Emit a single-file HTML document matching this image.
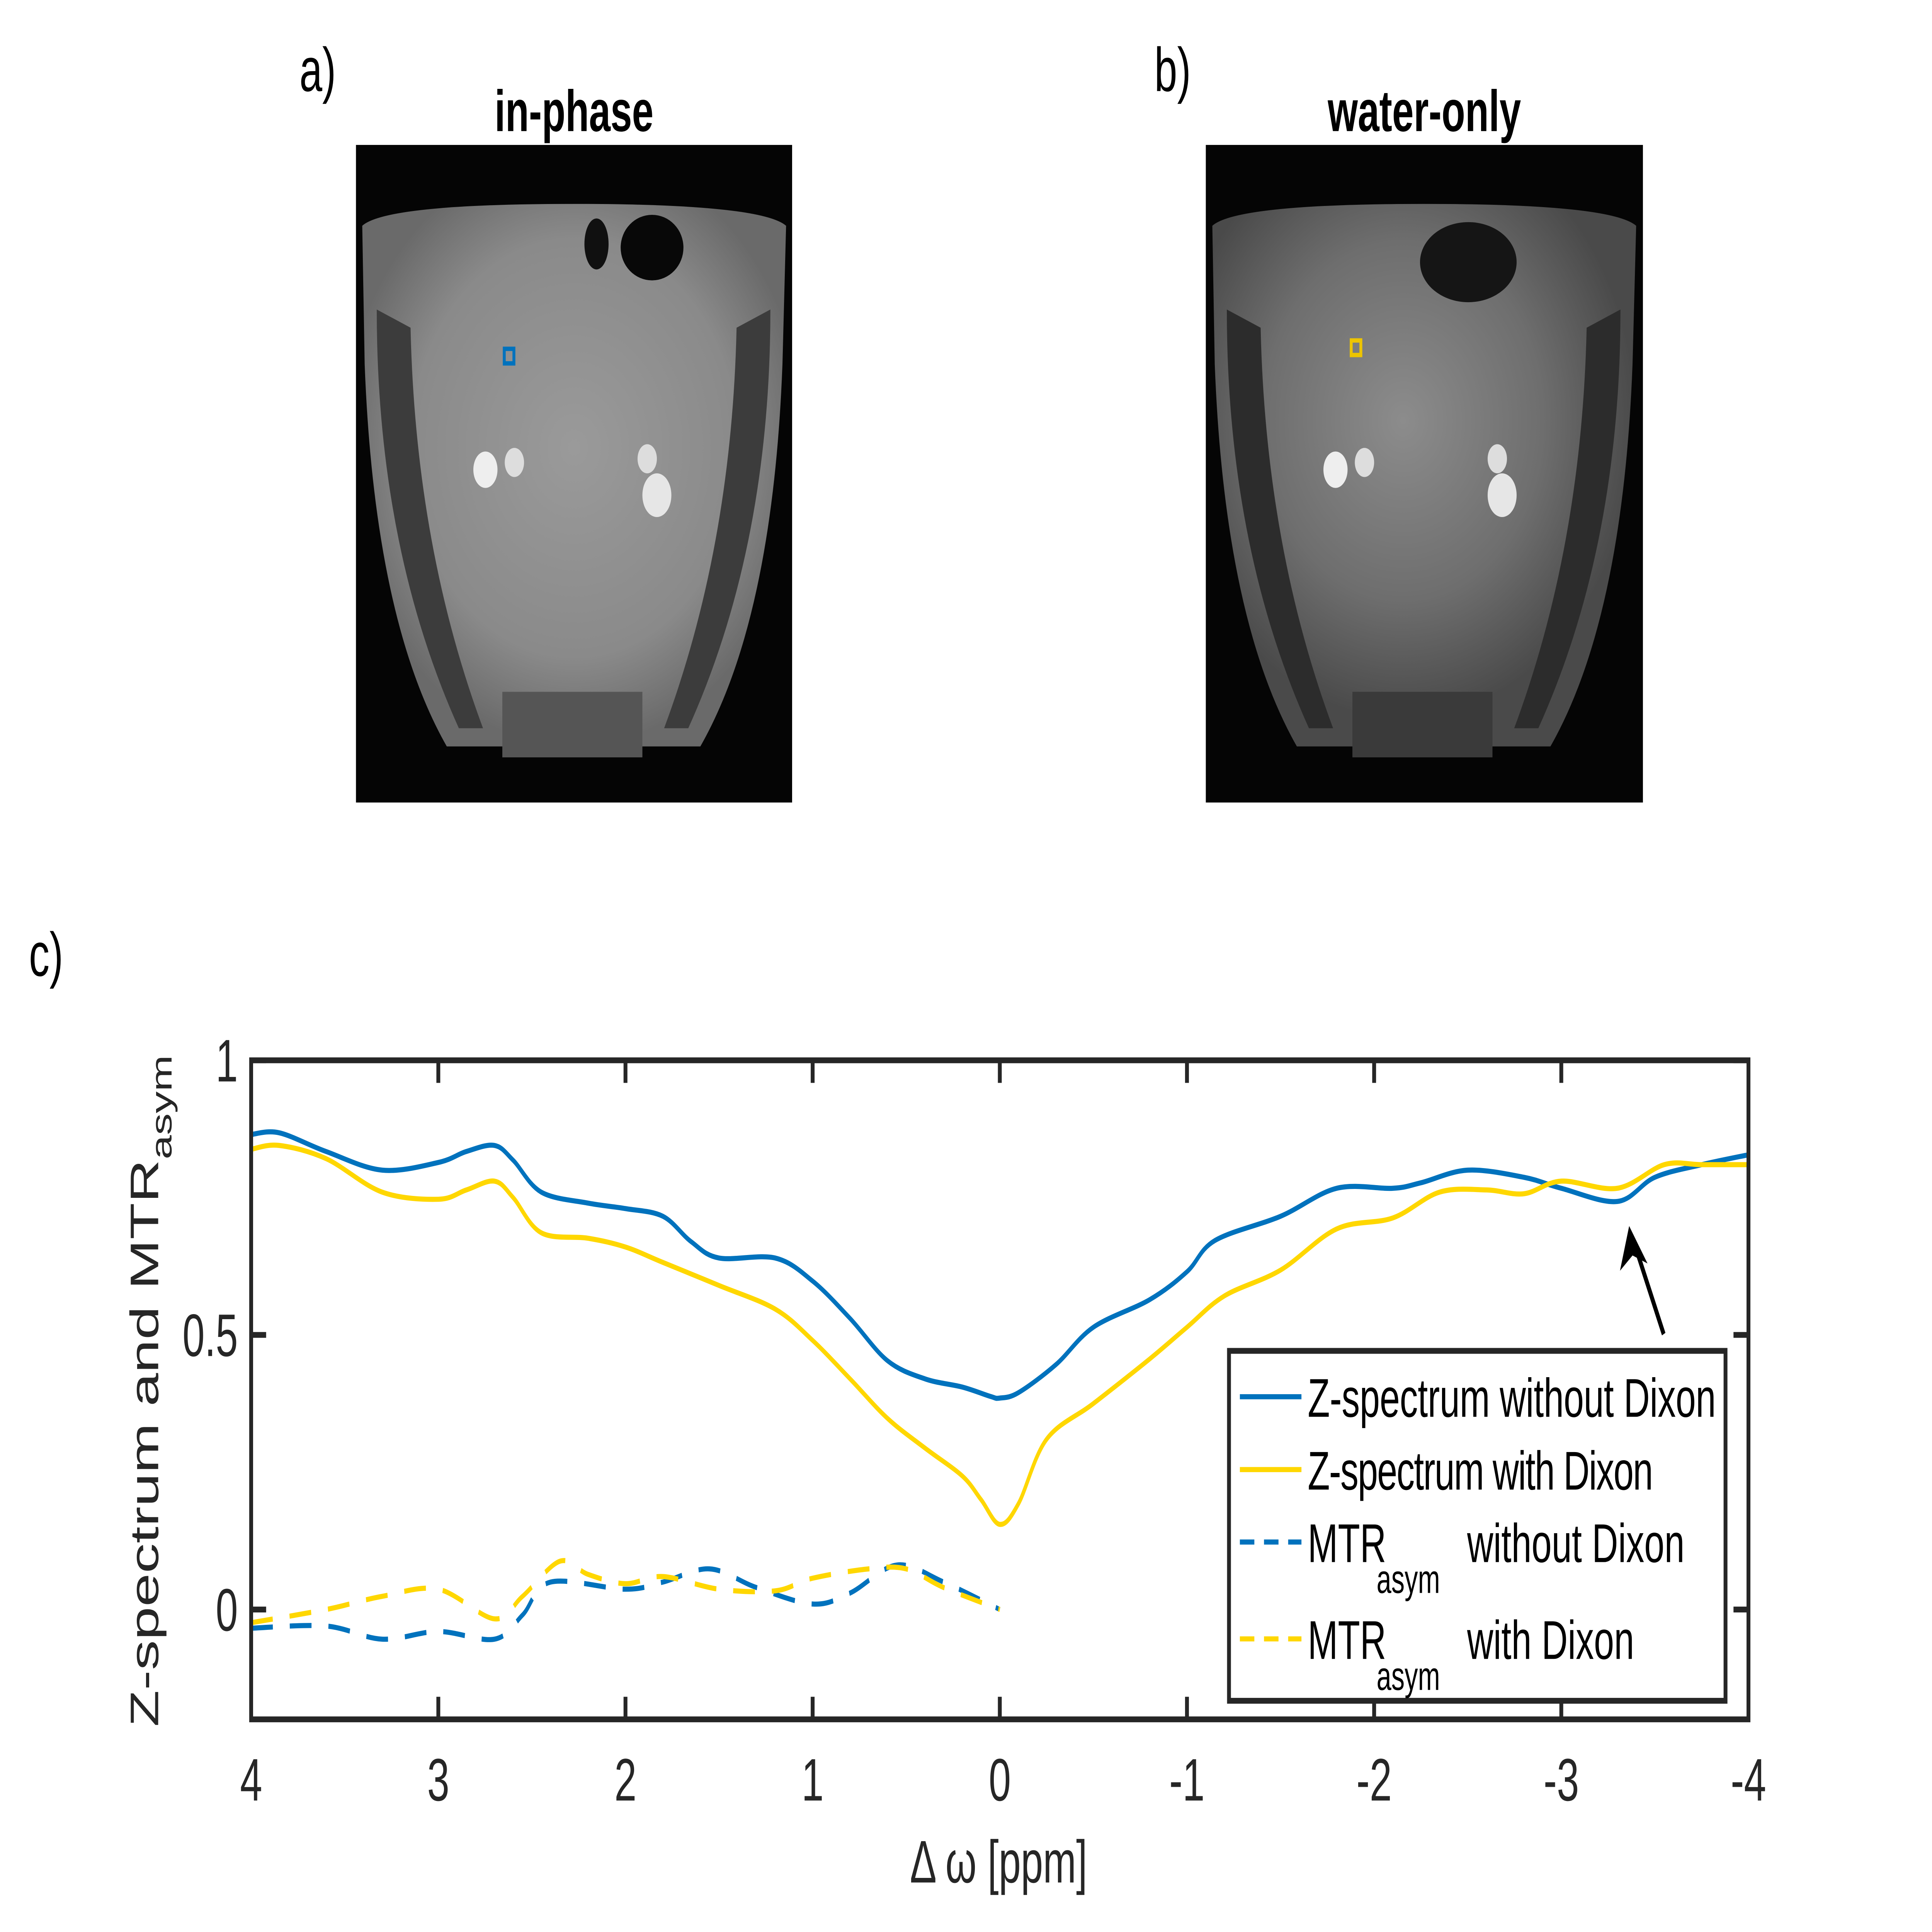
<!DOCTYPE html>
<html><head><meta charset="utf-8"><style>
html,body{margin:0;padding:0;background:#fff;overflow:hidden;width:100%;height:100%;}
svg{display:block;position:absolute;left:0;top:0;width:100vw;height:100vh;font-family:"Liberation Sans",Arial,sans-serif;}
</style></head><body>
<svg id="fig" viewBox="0 0 8000 5306" preserveAspectRatio="none" xmlns="http://www.w3.org/2000/svg">
<defs>
<radialGradient id="bodyg" cx="50%" cy="45%" r="55%"><stop offset="0" stop-color="#9a9a9a"/><stop offset="0.7" stop-color="#8a8a8a"/><stop offset="1" stop-color="#6a6a6a"/></radialGradient>
<radialGradient id="bodyw" cx="45%" cy="40%" r="55%"><stop offset="0" stop-color="#8c8c8c"/><stop offset="0.6" stop-color="#6e6e6e"/><stop offset="1" stop-color="#4a4a4a"/></radialGradient>
</defs>
<text x="1240" y="250" font-size="170" fill="#000">a)</text>
<text x="4780" y="250" font-size="170" fill="#000">b)</text>
<text x="120" y="2680" font-size="170" fill="#000">c)</text>
<text x="2377" y="360" font-size="160" font-weight="bold" text-anchor="middle">in-phase</text>
<text x="5898" y="360" font-size="160" font-weight="bold" text-anchor="middle">water-only</text>
<g>
<rect x="1474" y="398" width="1806" height="1806" fill="#050505"/>
<path d="M1500 620 Q1600 560 2377 560 Q3150 560 3255 620 L3240 1000 Q3200 1700 2900 2050 L1850 2050 Q1550 1700 1510 1000 Z" fill="url(#bodyg)"/>
<path d="M1560 850 Q1560 1500 1900 2000 L2000 2000 Q1720 1500 1700 900 Z" fill="#3c3c3c"/>
<path d="M3190 850 Q3190 1500 2850 2000 L2750 2000 Q3030 1500 3050 900 Z" fill="#3c3c3c"/>
<ellipse cx="2700" cy="680" rx="130" ry="90" fill="#080808"/>
<ellipse cx="2470" cy="670" rx="50" ry="70" fill="#101010"/>
<circle cx="2010" cy="1290" r="50" fill="#eee"/><circle cx="2130" cy="1270" r="40" fill="#ddd"/>
<circle cx="2720" cy="1360" r="60" fill="#e6e6e6"/><circle cx="2680" cy="1260" r="40" fill="#ddd"/>
<rect x="2080" y="1900" width="580" height="180" fill="#555"/>
<rect x="2088" y="958" width="40" height="40" fill="none" stroke="#0072bd" stroke-width="12"/>
</g>
<g>
<rect x="4993" y="398" width="1810" height="1806" fill="#050505"/>
<path d="M5020 620 Q5120 560 5898 560 Q6670 560 6775 620 L6760 1000 Q6720 1700 6420 2050 L5370 2050 Q5070 1700 5030 1000 Z" fill="url(#bodyw)"/>
<path d="M5080 850 Q5080 1500 5420 2000 L5520 2000 Q5240 1500 5220 900 Z" fill="#2c2c2c"/>
<path d="M6710 850 Q6710 1500 6370 2000 L6270 2000 Q6550 1500 6570 900 Z" fill="#2c2c2c"/>
<ellipse cx="6080" cy="720" rx="200" ry="110" fill="#151515"/>
<circle cx="5530" cy="1290" r="50" fill="#eee"/><circle cx="5650" cy="1270" r="40" fill="#ddd"/>
<circle cx="6220" cy="1360" r="60" fill="#e6e6e6"/><circle cx="6200" cy="1260" r="40" fill="#ddd"/>
<rect x="5600" y="1900" width="580" height="180" fill="#3a3a3a"/>
<rect x="5595" y="935" width="40" height="40" fill="none" stroke="#edc400" stroke-width="12"/>
</g>
<g id="plot"></g>
</svg>
<script>
const xTicks=[4,3,2,1,0,-1,-2,-3,-4];
const yTicks=[0,0.5,1];
const yTickLabels=["0","0.5","1"];
const zX=[4,3.85,3.6,3.3,3.0,2.85,2.7,2.6,2.45,2.2,2.0,1.8,1.65,1.5,1.2,1.0,0.8,0.6,0.4,0.2,0.05,0,-0.1,-0.3,-0.5,-0.8,-1.0,-1.15,-1.5,-1.8,-2.1,-2.25,-2.5,-2.8,-3.0,-3.3,-3.5,-3.75,-4];
const zNoDixon=[0.865,0.868,0.834,0.80,0.814,0.834,0.845,0.818,0.76,0.74,0.73,0.716,0.67,0.64,0.64,0.598,0.53,0.453,0.42,0.405,0.388,0.385,0.395,0.446,0.514,0.564,0.615,0.672,0.716,0.767,0.767,0.777,0.80,0.787,0.767,0.743,0.787,0.81,0.828];
const zDixonX=[4,3.85,3.6,3.3,3.0,2.85,2.7,2.6,2.45,2.2,2.0,1.8,1.5,1.2,1.0,0.8,0.6,0.4,0.2,0.1,0,-0.1,-0.25,-0.5,-0.8,-1.0,-1.2,-1.5,-1.8,-2.1,-2.35,-2.6,-2.8,-3.0,-3.3,-3.55,-3.75,-4];
const zDixon=[0.838,0.845,0.821,0.76,0.747,0.764,0.78,0.75,0.686,0.676,0.66,0.632,0.59,0.547,0.49,0.42,0.348,0.294,0.243,0.2,0.155,0.193,0.31,0.375,0.456,0.514,0.571,0.618,0.693,0.713,0.76,0.764,0.757,0.78,0.767,0.81,0.81,0.81];
const mtrNoX=[4,3.6,3.3,3.0,2.7,2.55,2.4,2.0,1.8,1.55,1.3,1.0,0.8,0.55,0.3,0];
const mtrNoDixon=[-0.034,-0.03,-0.054,-0.04,-0.054,-0.01,0.05,0.037,0.05,0.074,0.04,0.01,0.03,0.081,0.05,0];
const mtrDX=[4,3.6,3.3,3.0,2.7,2.55,2.35,2.2,2.0,1.8,1.5,1.2,1.0,0.7,0.5,0.3,0];
const mtrDixon=[-0.024,0,0.024,0.037,-0.017,0.024,0.088,0.064,0.047,0.06,0.037,0.034,0.057,0.074,0.074,0.04,0];

const L=1040,R=7240,T=2912,B=4722,XMIN=-4,XMAX=4,YMIN=-0.2,YMAX=1;
const sx=v=>L+(XMAX-v)/(XMAX-XMIN)*(R-L);
const sy=v=>B-(v-YMIN)/(YMAX-YMIN)*(B-T);
const NS="http://www.w3.org/2000/svg";
const g=document.getElementById('plot');
function mk(tag,attrs,parent){const e=document.createElementNS(NS,tag);for(const k in attrs)e.setAttribute(k,attrs[k]);(parent||g).appendChild(e);return e;}
function smooth(xs,ys){const p=xs.map((x,i)=>[sx(x),sy(ys[i])]);let d="M"+p[0][0]+" "+p[0][1];
for(let i=0;i<p.length-1;i++){const p0=p[i-1]||p[i],p1=p[i],p2=p[i+1],p3=p[i+2]||p2;
d+=" C"+(p1[0]+(p2[0]-p0[0])/6)+" "+(p1[1]+(p2[1]-p0[1])/6)+" "+(p2[0]-(p3[0]-p1[0])/6)+" "+(p2[1]-(p3[1]-p1[1])/6)+" "+p2[0]+" "+p2[1];}return d;}
const ax="#262626";
const s1=mk('path',{d:smooth(mtrNoX,mtrNoDixon),fill:"none",stroke:"#0072bd","stroke-width":14,"stroke-dasharray":"90 70"});


const s2=mk('path',{d:smooth(mtrDX,mtrDixon),fill:"none",stroke:"#ffd700","stroke-width":14,"stroke-dasharray":"90 70"});


const s3=mk('path',{d:smooth(zX,zNoDixon),fill:"none",stroke:"#0072bd","stroke-width":14});


const s4=mk('path',{d:smooth(zDixonX,zDixon),fill:"none",stroke:"#ffd700","stroke-width":14});


const box=mk('rect',{x:L,y:T,width:R-L,height:B-T,fill:"none",stroke:ax,"stroke-width":16});


xTicks.forEach(v=>{const x=sx(v);
mk('line',{x1:x,y1:B,x2:x,y2:B-62,stroke:ax,"stroke-width":16});
mk('line',{x1:x,y1:T,x2:x,y2:T+62,stroke:ax,"stroke-width":16});
const t=mk('text',{x:x,y:4945,"font-size":165,"text-anchor":"middle",fill:ax});t.textContent=String(v);

});
yTicks.forEach((v,i)=>{const y=sy(v);
mk('line',{x1:L,y1:y,x2:L+62,y2:y,stroke:ax,"stroke-width":16});
mk('line',{x1:R,y1:y,x2:R-62,y2:y,stroke:ax,"stroke-width":16});
const t=mk('text',{x:985,y:y+58,"font-size":165,"text-anchor":"end",fill:ax});t.textContent=yTickLabels[i];

});
const ar=mk('g',{});


mk('line',{x1:6889,y1:3664,x2:6770,y2:3420,stroke:"#000","stroke-width":16},ar);
mk('polygon',{points:"6746,3367 6822,3470 6760,3448 6708,3490",fill:"#000"},ar);
const lg=mk('g',{});


mk('rect',{x:5089,y:3710,width:2056,height:961,fill:"#fff",stroke:ax,"stroke-width":16},lg);
const ents=[[3836,"#0072bd",null,"Z-spectrum without Dixon",false],[4036,"#ffd700",null,"Z-spectrum with Dixon",false],[4235,"#0072bd","60 40","without Dixon",true],[4501,"#ffd700","60 40","with Dixon",true]];
ents.forEach(e=>{const eg=mk('g',{},lg);


const a={x1:5134,y1:e[0],x2:5389,y2:e[0],stroke:e[1],"stroke-width":14};if(e[2])a["stroke-dasharray"]=e[2];mk('line',a,eg);
if(!e[4]){const t=mk('text',{x:5415,y:e[0]+55,"font-size":150,fill:"#000"},eg);t.textContent=e[3];t.setAttribute('textLength',e[3].length>22?1690:1430);}
else{const t=mk('text',{x:5415,y:e[0]+55,"font-size":150,fill:"#000"},eg);t.textContent="MTR";
const s=mk('text',{x:5700,y:e[0]+140,"font-size":110,fill:"#000"},eg);s.textContent="asym";
const t2=mk('text',{x:6075,y:e[0]+55,"font-size":150,fill:"#000"},eg);t2.textContent=e[3];}
});
const xt=mk('text',{x:4135,y:5170,"font-size":165,"text-anchor":"middle",fill:ax});xt.textContent="Δ ω [ppm]";


const yt=mk('text',{x:0,y:0,"font-size":165,"text-anchor":"middle",fill:ax,transform:"translate(655,3820) rotate(-90)"});


const ts1=document.createElementNS(NS,'tspan');ts1.textContent="Z-spectrum and MTR";yt.appendChild(ts1);
const ts2=document.createElementNS(NS,'tspan');ts2.setAttribute('dy','55');ts2.setAttribute('font-size','120');ts2.textContent="asym";yt.appendChild(ts2);
</script>
</body></html>
